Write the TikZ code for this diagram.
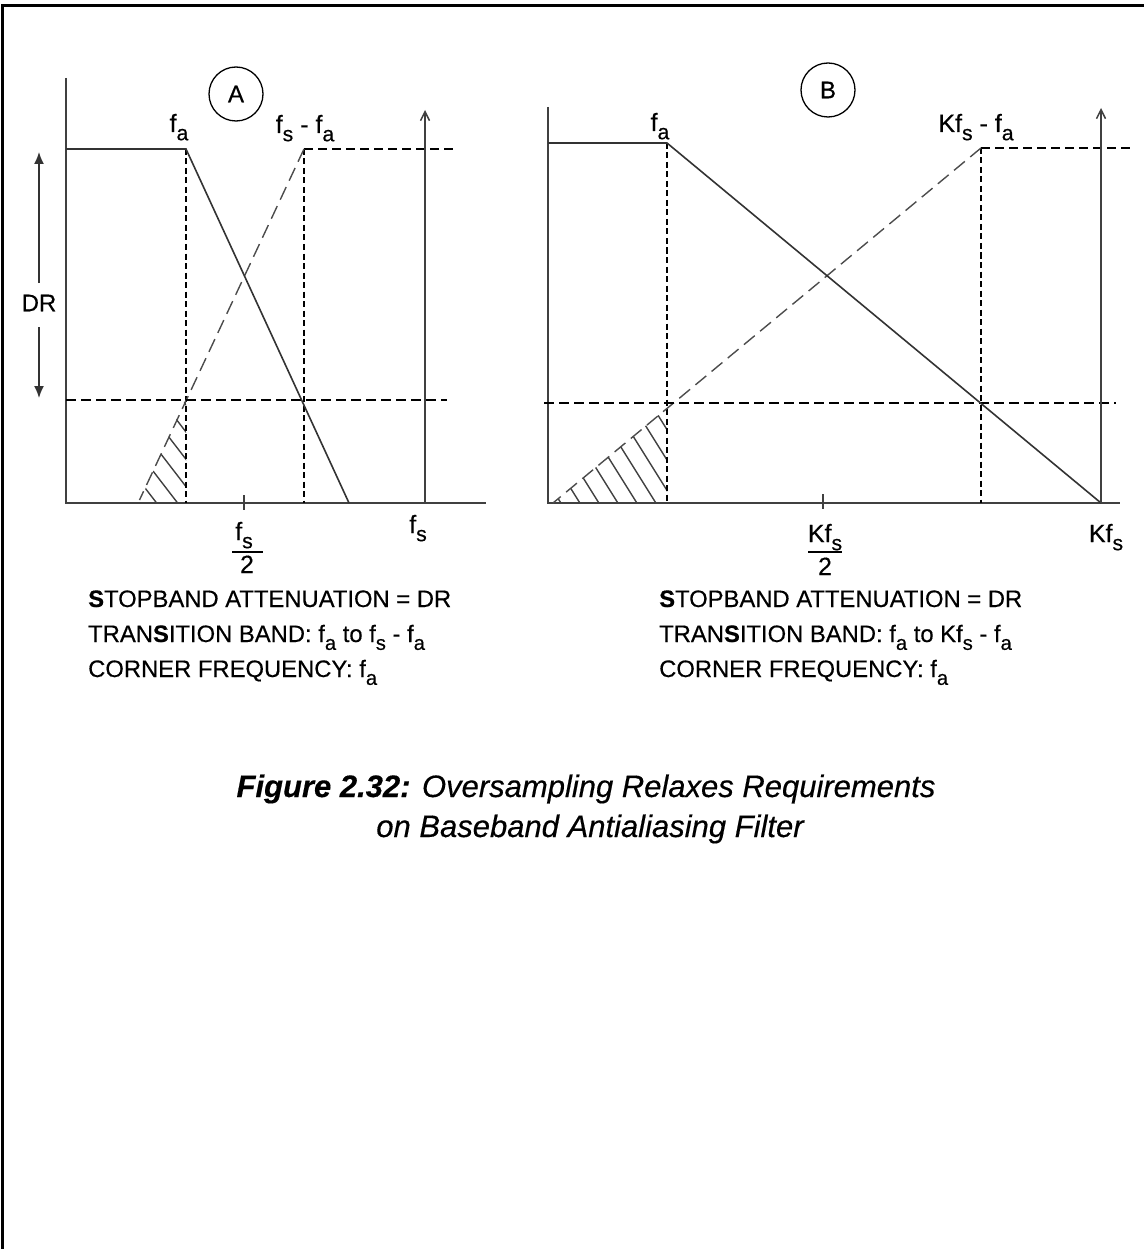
\documentclass[tikz,border=0pt]{standalone}
\usepackage{fontspec}
\setmainfont{Liberation Sans}[FakeBold=0.4]
\usetikzlibrary{arrows.meta}
\newcommand{\lsub}[1]{\raisebox{-0.33em}{\scalebox{0.85}{#1}}}
\begin{document}
\begin{tikzpicture}[x=1pt,y=-1pt,
  axis/.style={line width=1.8pt, draw=black!75},
  curve/.style={line width=1.6pt, draw=black!80},
  vdash/.style={line width=1.4pt, draw=black, dash pattern=on 6pt off 3.5pt},
  hdash/.style={line width=1.5pt, draw=black, dash pattern=on 10pt off 5pt},
  tdash/.style={line width=1.4pt, draw=black, dash pattern=on 9pt off 5pt},
  ddash/.style={line width=1.4pt, draw=black!70, dash pattern=on 14pt off 7pt},
  hatch/.style={line width=1.4pt, draw=black!75},
  lbl/.style={font=\fontsize{25}{25}\selectfont, inner sep=0pt, anchor=base},
  txt/.style={font=\fontsize{23.8}{28}\selectfont, inner sep=0pt, anchor=base west},
  capt/.style={font=\fontsize{31}{38}\selectfont\itshape, inner sep=0pt, anchor=base},
  ring/.style={circle, draw, line width=1.3pt, minimum size=54pt, inner sep=0pt, font=\fontsize{24}{24}\selectfont},
  uparrow/.style={axis, -{Straight Barb[length=9pt,width=9pt,line width=1.5pt]}},
  drarrow/.style={line width=1.5pt, draw=black!80, -{Latex[length=12pt,width=10pt]}}
]
\useasboundingbox (0,0) rectangle (1144,1249);
% frame
\draw[line width=2.5pt] (2.5,1249) -- (2.5,5.5) -- (1144,5.5);

% ===== Panel A =====
\coordinate (aO) at (66,503);
\coordinate (aTop) at (66,78);
\coordinate (aEnd) at (486,503);
\coordinate (aFa) at (186,149);
\coordinate (aFaB) at (186,503);
\coordinate (aPb) at (66,149);
\coordinate (aLow) at (349,503);
\coordinate (aFsFa) at (304,149);
\coordinate (aFsFaB) at (304,503);
\coordinate (aTopEnd) at (456,149);
\coordinate (aDiag) at (139.5,500);
\coordinate (aDR1) at (66,400);
\coordinate (aDR2) at (447,400);
\coordinate (aArB) at (425,503);
\coordinate (aArT) at (425,110);

% hatch A
\begin{scope}
\clip (186,398) -- (186,503) -- (139,503) -- cycle;
\foreach \k in {0,...,10} \draw[hatch] (62+21*\k,380) -- ++(100,130);
\end{scope}

\draw[axis] (aTop) -- (aO) -- (aEnd);
\draw[axis,line width=1.3pt] (244,495) -- (244,510);
\draw[vdash] (aFa) -- (aFaB);
\draw[vdash] (aFsFa) -- (aFsFaB);
\draw[tdash] (aFsFa) -- (aTopEnd);
\draw[ddash] (aFsFa) -- (aDiag);
\draw[hdash] (aDR1) -- (aDR2);
\draw[curve] (aPb) -- (aFa) -- (aLow);
\draw[uparrow] (aArB) -- (aArT);

\node[ring] (cA) at (236,94) {A};
\node[lbl] (lAfa) at (179,132) {f\lsub{a}};
\node[lbl] (lAfsfa) at (305,133) {f\lsub{s} - f\lsub{a}};
\node[lbl] (lAfs) at (418,533) {f\lsub{s}};
\node[lbl] (lAnum) at (244,540) {f\lsub{s}};
\draw[line width=1.6pt] (232,552) -- (263,552);
\node[lbl] (lAden) at (247,573) {2};

% DR
\node[font=\fontsize{24}{24}\selectfont, inner sep=0pt] (dr) at (39,303) {DR};
\coordinate (drU1) at (39,283);
\coordinate (drU2) at (39,152);
\coordinate (drD1) at (39,327);
\coordinate (drD2) at (39,398);
\draw[drarrow] (drU1) -- (drU2);
\draw[drarrow] (drD1) -- (drD2);

% text A
\node[txt] (tA1) at (88,607) {\textbf{S}TOPBAND ATTENUATION = DR};
\node[txt] (tA2) at (88,642) {TRAN\textbf{S}ITION BAND: f\lsub{a} to f\lsub{s} - f\lsub{a}};
\node[txt] (tA3) at (88,677) {CORNER FREQUENCY: f\lsub{a}};

% ===== Panel B =====
\coordinate (bO) at (548,503);
\coordinate (bTop) at (548,107);
\coordinate (bEnd) at (1120,503);
\coordinate (bPb) at (548,143);
\coordinate (bFa) at (667,143);
\coordinate (bFaB) at (667,503);
\coordinate (bLow) at (1101,503);
\coordinate (bK) at (981,148);
\coordinate (bKB) at (981,503);
\coordinate (bTopEnd) at (1134,148);
\coordinate (bDiag) at (553,503);
\coordinate (bDR1) at (544,403);
\coordinate (bDR2) at (1116,403);
\coordinate (bArB) at (1101,503);
\coordinate (bArT) at (1101,108);

% hatch B
\begin{scope}
\clip (667,408) -- (667,503) -- (553,503) -- cycle;
\foreach \k in {0,...,12} \draw[hatch] (484+19*\k,380) -- ++(100,160);
\end{scope}

\draw[axis] (bTop) -- (bO) -- (bEnd);
\draw[axis,line width=1.3pt] (823,494) -- (823,509);
\draw[vdash] (bFa) -- (bFaB);
\draw[vdash] (bK) -- (bKB);
\draw[tdash] (bK) -- (bTopEnd);
\draw[ddash] (bK) -- (bDiag);
\draw[hdash] (bDR1) -- (bDR2);
\draw[curve] (bPb) -- (bFa) -- (bLow);
\draw[uparrow] (bArB) -- (bArT);

\node[ring] (cB) at (828,90) {B};
\node[lbl] (lBfa) at (660,131) {f\lsub{a}};
\node[lbl] (lBk) at (976,132) {Kf\lsub{s} - f\lsub{a}};
\node[lbl] (lBkfs) at (1106,542) {Kf\lsub{s}};
\node[lbl] (lBnum) at (825,542) {Kf\lsub{s}};
\draw[line width=1.6pt] (808,552) -- (842,552);
\node[lbl] (lBden) at (825,575) {2};

% text B
\node[txt] (tB1) at (659,607) {\textbf{S}TOPBAND ATTENUATION = DR};
\node[txt] (tB2) at (659,642) {TRAN\textbf{S}ITION BAND: f\lsub{a} to Kf\lsub{s} - f\lsub{a}};
\node[txt] (tB3) at (659,677) {CORNER FREQUENCY: f\lsub{a}};

% caption
\node[capt] (cap1) at (586,797) {\textbf{Figure 2.32:} Oversampling Relaxes Requirements};
\node[capt] (cap2) at (590,837) {on Baseband Antialiasing Filter};
\end{tikzpicture}
\end{document}
